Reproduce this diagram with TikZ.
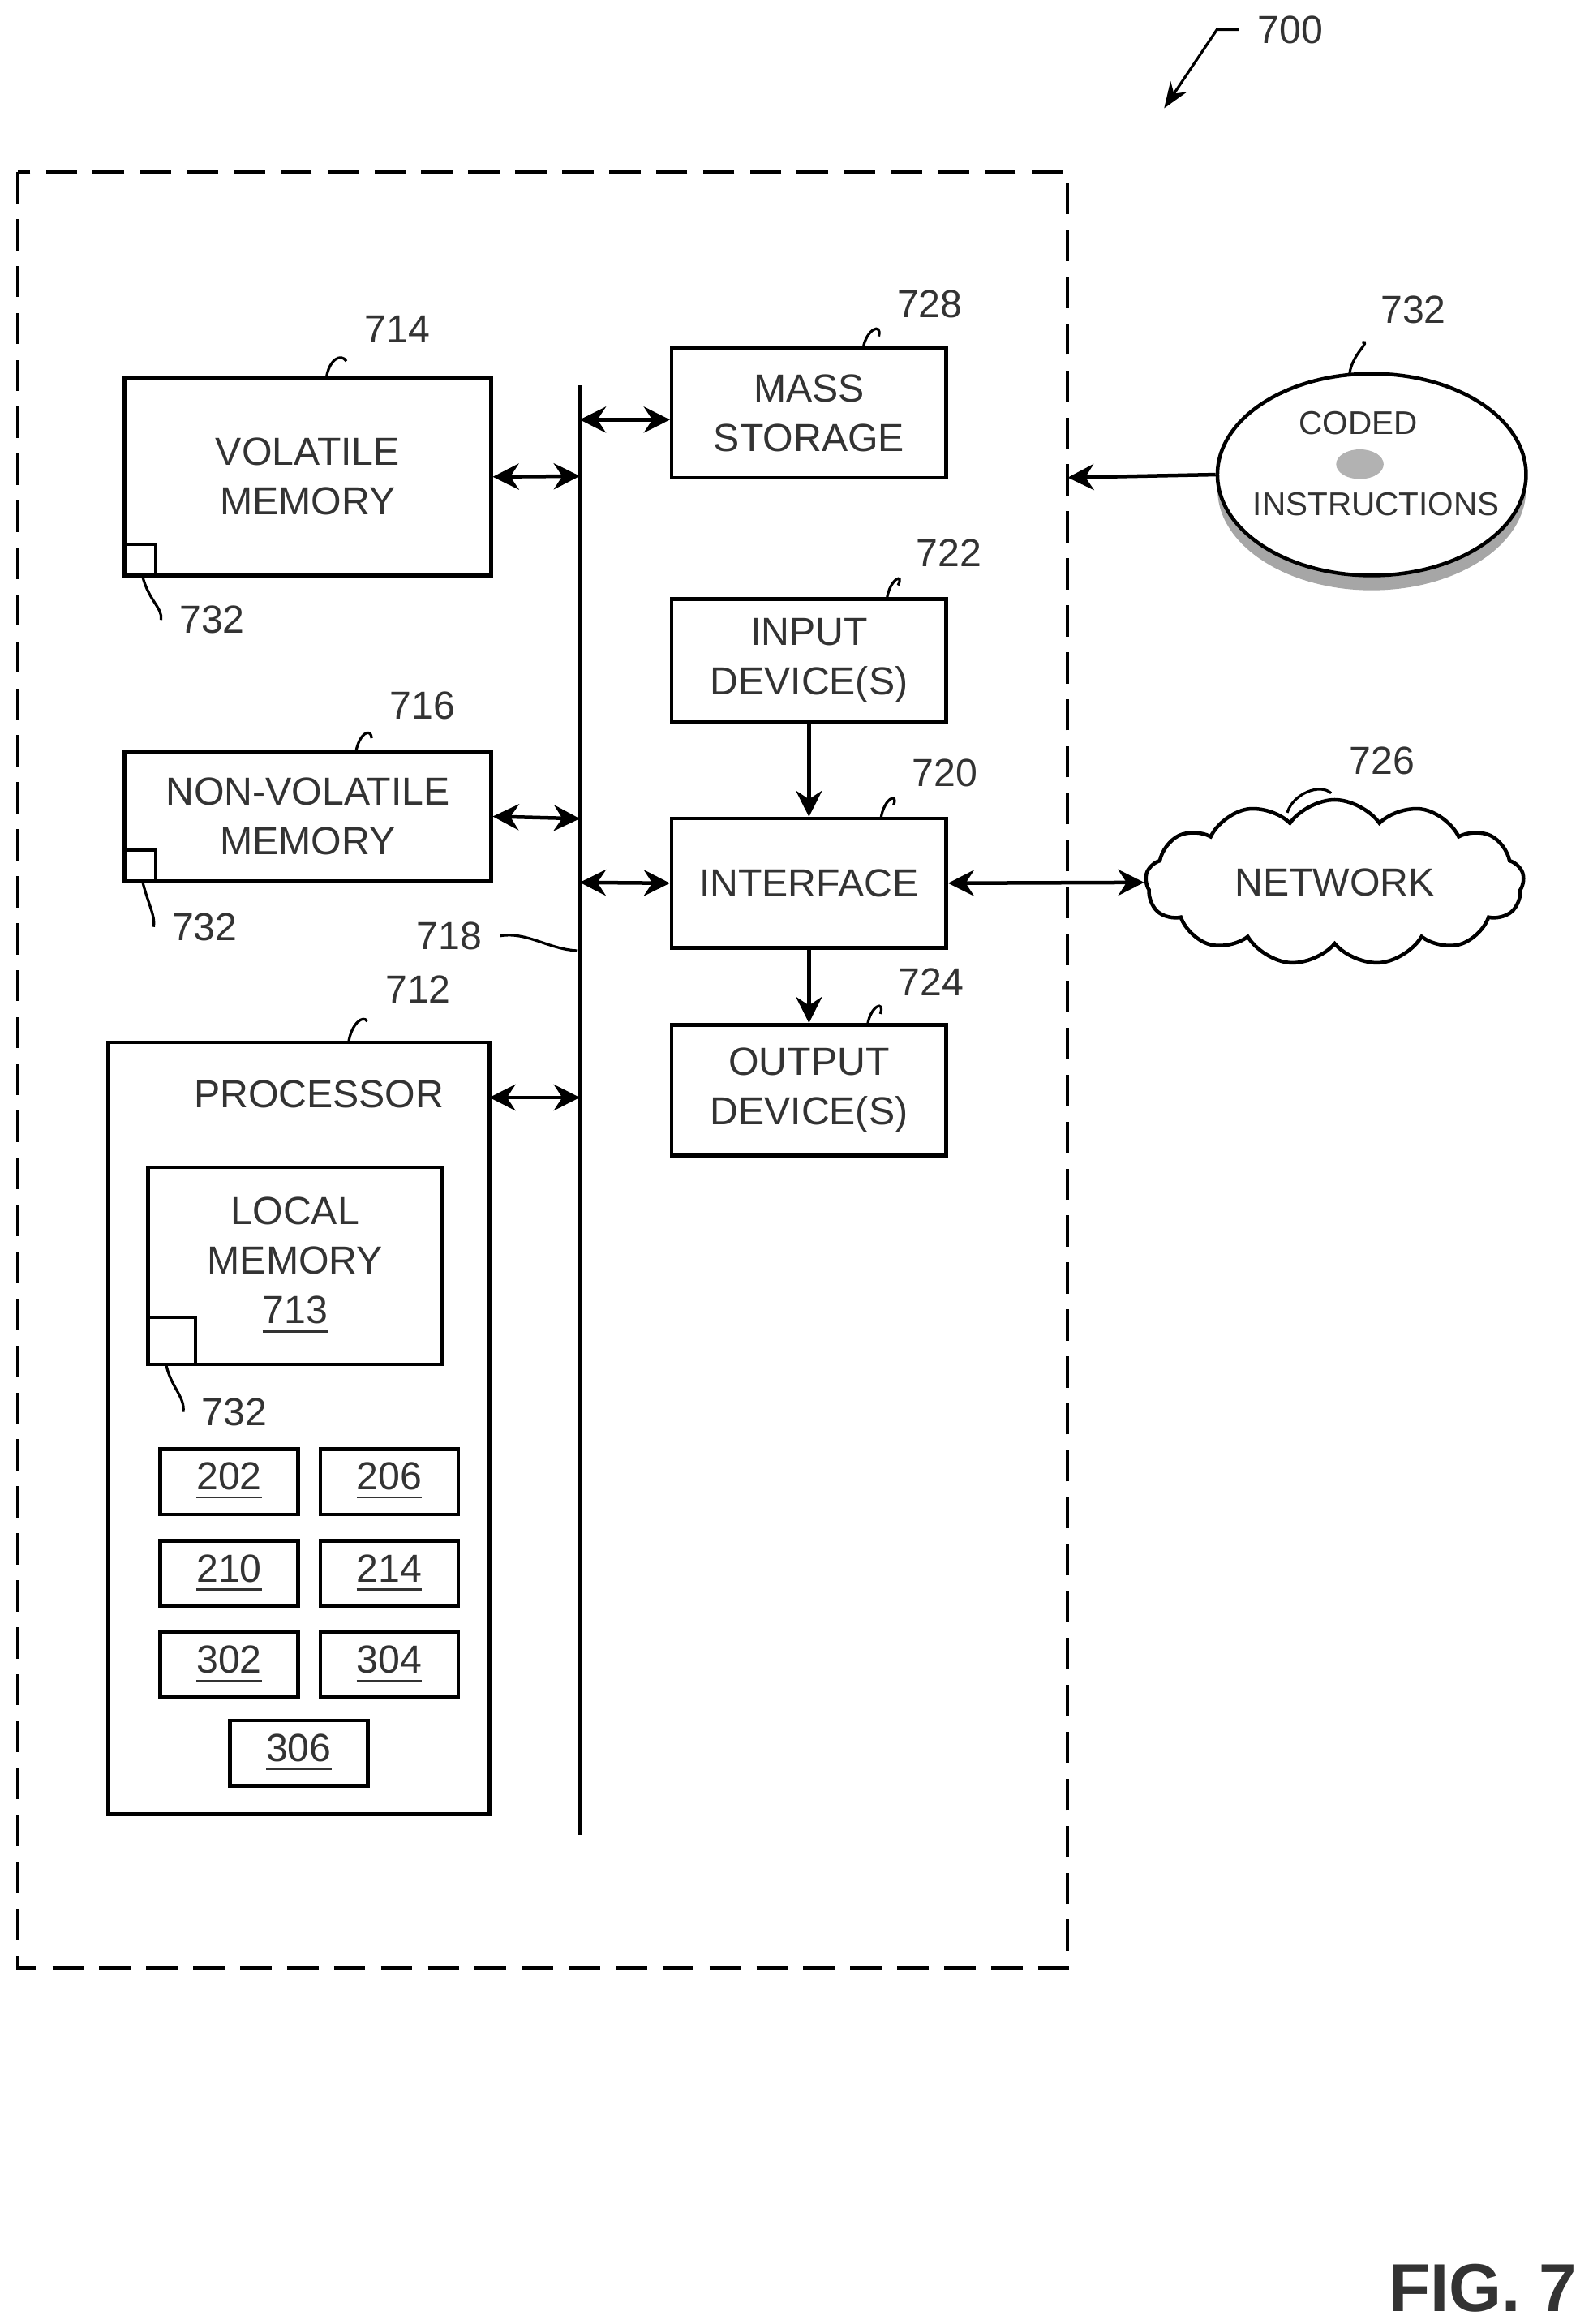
\documentclass[tikz,border=0pt]{standalone}
\usepackage{fontspec}
\setmainfont{Liberation Sans}
\usetikzlibrary{shapes.symbols,shapes.geometric,arrows.meta}
\begin{document}
\begin{tikzpicture}[x=0.01cm,y=-0.01cm,
  every node/.style={font=\fontsize{7.5}{9.5}\selectfont, text=black!80},
  box/.style={draw, line width=0.7pt, align=center, inner sep=0pt},
  sbox/.style={draw, line width=0.7pt, minimum width=0.93cm, minimum height=0.44cm, inner sep=0pt},
  lbl/.style={font=\fontsize{7.5}{9.5}\selectfont},
  lead/.style={line width=0.5pt},
  dbl/.style={line width=0.7pt, {Stealth[length=5pt,width=5pt]}-{Stealth[length=5pt,width=5pt]}},
  sgl/.style={line width=0.7pt, -{Stealth[length=5pt,width=5pt]}}]
\useasboundingbox (0,0) rectangle (1074,1567);
\draw[dashed, line width=0.6pt, dash pattern=on 6pt off 3pt] (12,116) rectangle (720,1327);
% 700
\node[lbl] (l700) at (870,20) {700};
\coordinate (c700) at (785,73);
\draw[lead, -{Stealth[length=5pt]}] (l700.west) -- ++(-15,0) -- (c700);
% volatile
\node[box, minimum width=2.47cm, minimum height=1.33cm] (vol) at (207.5,321.5) {VOLATILE\\MEMORY};
\draw[line width=0.6pt] (84,367) rectangle (105,388);
\node[lbl] (a1) at (143,418) {732};
\draw[lead] (96,388) .. controls (100,405) and (110,410) .. (a1.west);
\node[lbl] (l714) at (268,222) {714};
\draw[lead] (220,255) .. controls (222,242) and (230,238) .. (l714.south west);
% non volatile
\node[box, minimum width=2.47cm, minimum height=0.87cm] (nvol) at (207.5,550.5) {NON-VOLATILE\\MEMORY};
\draw[line width=0.6pt] (84,573) rectangle (105,594);
\node[lbl] (a2) at (138,625) {732};
\draw[lead] (96,594) .. controls (100,610) and (105,618) .. (a2.west);
\node[lbl] (l716) at (285,476) {716};
\draw[lead] (240,507) .. controls (242,495) and (250,490) .. (l716.south west);
% processor
\node[box, minimum width=2.57cm, minimum height=5.20cm] (proc) at (201.5,963) {};
\node at (215,738) {PROCESSOR};
\node[lbl] (l712) at (282,667) {712};
\draw[lead] (235,703) .. controls (237,690) and (245,684) .. (l712.south west);
\node[box, minimum width=1.98cm, minimum height=1.33cm] (lm) at (199,853.5) {LOCAL\\MEMORY\\\underline{713}};
\draw[line width=0.6pt] (100,888) rectangle (132,920);
\node[lbl] (a3) at (158,952) {732};
\draw[lead] (112,920) .. controls (115,935) and (125,942) .. (a3.west);
\node[sbox] (b202) at (154.5,999) {\underline{202}};
\node[sbox] (b206) at (262.5,999) {\underline{206}};
\node[sbox] (b210) at (154.5,1061) {\underline{210}};
\node[sbox] (b214) at (262.5,1061) {\underline{214}};
\node[sbox] (b302) at (154.5,1122.5) {\underline{302}};
\node[sbox] (b304) at (262.5,1122.5) {\underline{304}};
\node[sbox] (b306) at (201.5,1182) {\underline{306}};
% bus
\coordinate (bt) at (391,260);
\coordinate (bb) at (391,1237);
\draw[line width=0.8pt] (bt) -- (bb);
\node[lbl] (l718) at (303,631) {718};
\coordinate (b718) at (389,641);
\draw[lead] (l718.east) .. controls (355,628) and (370,640) .. (b718);
\coordinate (bv) at (391,321);
\coordinate (bn) at (391,552);
\coordinate (bp) at (391,740);
\coordinate (bm) at (391,283);
\coordinate (bi) at (391,595);
\draw[dbl] (vol.east) -- (bv);
\draw[dbl] (nvol.east) -- (bn);
\draw[dbl] (330,740) -- (bp);
% right column
\node[box, minimum width=1.85cm, minimum height=0.87cm] (mass) at (545.5,278.5) {MASS\\STORAGE};
\node[box, minimum width=1.85cm, minimum height=0.83cm] (inp) at (545.5,445.5) {INPUT\\DEVICE(S)};
\node[box, minimum width=1.85cm, minimum height=0.87cm] (intf) at (545.5,595.5) {INTERFACE};
\node[box, minimum width=1.85cm, minimum height=0.88cm] (outp) at (545.5,735) {OUTPUT\\DEVICE(S)};
\draw[dbl] (bm) -- (mass.west |- bm);
\draw[dbl] (bi) -- (intf.west);
\draw[sgl] (inp.south) -- (intf.north);
\draw[sgl] (intf.south) -- (outp.north);
\node[lbl] (l728) at (627,205) {728};
\draw[lead] (582,235) .. controls (584,222) and (595,217) .. (l728.south west);
\node[lbl] (l722) at (640,373) {722};
\draw[lead] (598,404) .. controls (600,390) and (610,386) .. (l722.south west);
\node[lbl] (l720) at (637,521) {720};
\draw[lead] (594,552) .. controls (596,538) and (606,534) .. (l720.south west);
\node[lbl] (l724) at (628,662) {724};
\draw[lead] (585,691) .. controls (587,678) and (597,674) .. (l724.south west);
% network
\node[cloud, draw, line width=0.7pt, cloud puffs=13, cloud puff arc=110, aspect=2.6, minimum width=2.55cm, minimum height=0.95cm] (net) at (900,595) {NETWORK};
\draw[dbl] (intf.east) -- (net.west);
\node[lbl] (l726) at (932,513) {726};
\draw[lead] (868,548) .. controls (872,535) and (890,528) .. (l726.south west);
% disc
\fill[black!35] (925,330) ellipse [x radius=104, y radius=68];
\node[ellipse, draw, line width=0.7pt, fill=white, minimum width=2.08cm, minimum height=1.36cm] (disc) at (925,320) {};
\fill[black!30] (917,313) ellipse [x radius=16, y radius=10];
\node[font=\fontsize{6.3}{8}\selectfont] at (916,285) {CODED};
\node[font=\fontsize{6.3}{8}\selectfont] at (928,340) {INSTRUCTIONS};
\node[lbl] (l732) at (953,209) {732};
\draw[lead] (910,252) .. controls (912,238) and (925,230) .. (l732.south west);
\coordinate (din) at (720,322);
\draw[sgl] (disc.west) -- (din);
% fig
\node[font=\bfseries\fontsize{13}{15}\selectfont, text=black!80] (fig) at (1000,1543) {FIG. 7};
\end{tikzpicture}
\end{document}
